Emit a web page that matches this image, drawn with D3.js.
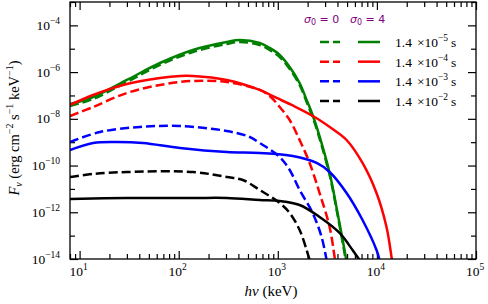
<!DOCTYPE html>
<html>
<head>
<meta charset="utf-8">
<script src="https://cdn.jsdelivr.net/npm/d3@7/dist/d3.min.js"></script>
<style>
  body { margin: 0; background: #fff; }
  svg { display: block; }
</style>
</head>
<body>
<svg id="chart"></svg>
<script>
// spectra: [h nu (keV), F_nu]
const greenSolid = [[8.0,4.32e-8],[13.7,8.61e-8],[30,4.60e-7],[64.7,2.45e-6],[139,8.85e-6],[305,1.95e-5],[413,2.37e-5],[657,1.77e-5],[828,1.08e-5],[1045,5.41e-6],[1318,1.66e-6],[1660,3.42e-7],[1954,6.41e-8],[2245,1.46e-8],[2522,3.33e-9],[3333,4.81e-11],[4010,9.3e-13],[4713,2.43e-14],[4943,7.44e-15]];
const greenDashed = [[8.0,3.55e-8],[13.7,7.07e-8],[30,3.78e-7],[64.7,2.02e-6],[139,7.27e-6],[305,1.60e-5],[413,1.95e-5],[657,1.45e-5],[828,8.85e-6],[1045,4.44e-6],[1318,1.36e-6],[1660,2.81e-7],[1954,5.26e-8],[2245,1.20e-8],[2522,2.73e-9],[3333,3.94e-11],[4010,7.65e-13],[4713,1.81e-14],[4943,6.11e-15]];
const redSolid = [[8.0,3.91e-8],[13.7,1.05e-7],[30,3.10e-7],[64.7,5.60e-7],[103,6.82e-7],[139,6.82e-7],[305,4.60e-7],[657,1.72e-7],[975,7.80e-8],[1413,3.72e-8],[2350,1.20e-8],[3570,3.67e-9],[4943,1.24e-9],[7160,1.29e-10],[9909,6.68e-12],[12500,2.34e-13],[14040,1.22e-14],[14370,6.11e-15]];
const redDashed = [[8.0,1.32e-8],[13.7,3.21e-8],[30,1.28e-7],[64.7,2.81e-7],[139,4.17e-7],[305,3.78e-7],[657,1.72e-7],[828,9.5e-8],[1045,3.21e-8],[1318,8.91e-9],[1660,1.24e-9],[2094,1.29e-10],[2641,6.68e-12],[3333,2.34e-13],[3741,1.22e-14],[3828,6.11e-15]];
const blueSolid = [[8.0,4.63e-10],[13.7,9.25e-10],[23.9,1.02e-9],[43.5,9.25e-10],[103,5.65e-10],[305,3.80e-10],[657,3.45e-10],[1413,2.56e-10],[2465,1.29e-10],[3333,5.30e-11],[4943,6.68e-12],[7160,4.68e-13],[9909,2.43e-14],[10620,9.06e-15]];
const blueDashed = [[8.0,1.02e-9],[16.1,2.73e-9],[40.6,4.48e-9],[103,4.93e-9],[305,3.01e-9],[521,1.67e-9],[657,9.25e-10],[1045,2.32e-10],[1318,6.46e-11],[1660,9.0e-12],[2245,9.3e-13],[2767,8.75e-14],[3105,9.06e-15]];
const blackSolid = [[8.0,3.70e-12],[30,4.08e-12],[139,4.08e-12],[305,4.08e-12],[657,3.36e-12],[1045,3.04e-12],[1660,2.05e-12],[2641,6.28e-13],[4200,1.30e-13],[5676,2.43e-14],[6679,9.06e-15]];
const blackDashed = [[8.0,3.24e-11],[13.7,4.36e-11],[30,5.30e-11],[139,5.30e-11],[305,3.24e-11],[443,2.41e-11],[657,9.0e-12],[1045,2.49e-12],[1318,9.3e-13],[1660,1.74e-13],[1954,2.43e-14],[2094,9.06e-15]];

const durations = ["\u22125", "\u22124", "\u22123", "\u22122"]; // exponents of 1.4 x 10^n s
const colors = ["#008000", "#ff0000", "#0000ff", "#000000"];
const solidSeries = [greenSolid, redSolid, blueSolid, blackSolid];
const dashedSeries = [greenDashed, redDashed, blueDashed, blackDashed];

const xLabelExps = [1, 2, 3, 4, 5];
const yLabelExps = [-4, -6, -8, -10, -12, -14];

const width = 488, height = 304;
const margin = { top: 2, right: 12, bottom: 45, left: 70 };
const innerW = width - margin.left - margin.right;
const innerH = height - margin.top - margin.bottom;

const svg = d3.select("#chart").attr("width", width).attr("height", height);

const x = d3.scaleLog().domain([8, 1e5]).range([margin.left, margin.left + innerW]);
const y = d3.scaleLog().domain([1e-14, 1e-3]).range([margin.top + innerH, margin.top]);

const serif = "'Liberation Serif', 'DejaVu Serif', serif";

svg.append("clipPath").attr("id", "clip")
  .append("rect")
  .attr("x", margin.left).attr("y", margin.top)
  .attr("width", innerW).attr("height", innerH);

// ticks
const xMajor = d3.range(1, 6).map(e => Math.pow(10, e));
const xMinor = [];
for (let e = 0; e < 5; e++) for (let m = 2; m <= 9; m++) {
  const v = m * Math.pow(10, e);
  if (v >= 8 && v <= 1e5) xMinor.push(v);
}
const yMajor = d3.range(-14, -3, 2).map(e => Math.pow(10, e));
const yMinor = d3.range(-13, -2, 2).map(e => Math.pow(10, e));

function tickAxis(axis, sel, vals, len) {
  sel.call(axis.tickValues(vals).tickSizeInner(-len).tickSizeOuter(0).tickFormat(""));
  sel.select(".domain").remove();
  sel.selectAll("line").attr("stroke", "#000").attr("stroke-width", 1.2);
}

const axes = svg.append("g");
[[xMajor, 8], [xMinor, 5]].forEach(([vals, len]) => {
  tickAxis(d3.axisBottom(x), axes.append("g").attr("transform", `translate(0,${margin.top + innerH})`), vals, len);
  tickAxis(d3.axisTop(x), axes.append("g").attr("transform", `translate(0,${margin.top})`), vals, len);
});
[[yMajor, 8], [yMinor, 5]].forEach(([vals, len]) => {
  tickAxis(d3.axisLeft(y), axes.append("g").attr("transform", `translate(${margin.left},0)`), vals, len);
  tickAxis(d3.axisRight(y), axes.append("g").attr("transform", `translate(${margin.left + innerW},0)`), vals, len);
});

// curves
const line = d3.line()
  .x(d => x(d[0]))
  .y(d => y(d[1]))
  .curve(d3.curveCatmullRom.alpha(0.5));

const plot = svg.append("g").attr("clip-path", "url(#clip)");
dashedSeries.forEach((s, i) => {
  plot.append("path").datum(s)
    .attr("d", line)
    .attr("fill", "none")
    .attr("stroke", colors[i])
    .attr("stroke-width", 2.5)
    .attr("stroke-dasharray", "9,4");
});
solidSeries.forEach((s, i) => {
  plot.append("path").datum(s)
    .attr("d", line)
    .attr("fill", "none")
    .attr("stroke", colors[i])
    .attr("stroke-width", 2.5);
});

// frame
svg.append("rect")
  .attr("x", margin.left).attr("y", margin.top)
  .attr("width", innerW).attr("height", innerH)
  .attr("fill", "none").attr("stroke", "#000").attr("stroke-width", 1.3);

// tick labels
xLabelExps.forEach(e => {
  const t = svg.append("text")
    .attr("x", x(Math.pow(10, e)) - 1)
    .attr("y", margin.top + innerH + 17)
    .attr("text-anchor", "middle")
    .attr("font-family", serif).attr("font-size", 13.5);
  t.append("tspan").text("10");
  t.append("tspan").attr("dy", -6).attr("font-size", 9.5).text(e);
});
yLabelExps.forEach(e => {
  const t = svg.append("text")
    .attr("x", margin.left - 10)
    .attr("y", y(Math.pow(10, e)) + 4.5)
    .attr("text-anchor", "end")
    .attr("font-family", serif).attr("font-size", 13.5);
  t.append("tspan").text("10");
  t.append("tspan").attr("dy", -6).attr("font-size", 9.5).text("\u2212" + Math.abs(e));
});

// axis titles
const xt = svg.append("text")
  .attr("x", margin.left + innerW / 2 - 2)
  .attr("y", 296)
  .attr("text-anchor", "middle")
  .attr("font-family", serif).attr("font-size", 15);
xt.append("tspan").attr("font-style", "italic").text("h\u03bd");
xt.append("tspan").text(" (keV)");

const yt = svg.append("text")
  .attr("transform", `translate(19,${margin.top + 126}) rotate(-90)`)
  .attr("text-anchor", "middle")
  .attr("font-family", serif).attr("font-size", 14.5);
yt.append("tspan").attr("font-style", "italic").text("F");
yt.append("tspan").attr("font-style", "italic").attr("font-size", 10).attr("dy", 3).text("\u03bd");
yt.append("tspan").attr("dy", -3).text(" (erg cm");
yt.append("tspan").attr("font-size", 10).attr("dy", -6).text("\u22122");
yt.append("tspan").attr("dy", 6).text(" s");
yt.append("tspan").attr("font-size", 10).attr("dy", -6).text("\u22121");
yt.append("tspan").attr("dy", 6).text(" keV");
yt.append("tspan").attr("font-size", 10).attr("dy", -6).text("\u22121");
yt.append("tspan").attr("dy", 6).text(")");

// legend
const purple = "#800080";
[["0", 304], ["4", 350]].forEach(([v, lx]) => {
  const t = svg.append("text")
    .attr("x", lx).attr("y", 23)
    .attr("font-family", "'DejaVu Sans', sans-serif").attr("font-size", 11)
    .attr("fill", purple);
  t.append("tspan").attr("font-style", "italic").text("\u03c3");
  t.append("tspan").attr("font-size", 8).attr("dy", 2).text("0");
  t.append("tspan").attr("dy", -2).text(" = " + v);
});

const legendY = d3.scalePoint().domain(d3.range(4)).range([42, 101]);
durations.forEach((exp, i) => {
  const ly = legendY(i);
  svg.append("line")
    .attr("x1", 320).attr("x2", 340).attr("y1", ly).attr("y2", ly)
    .attr("stroke", colors[i]).attr("stroke-width", 2.5).attr("stroke-dasharray", "9,4");
  svg.append("line")
    .attr("x1", 358).attr("x2", 380).attr("y1", ly).attr("y2", ly)
    .attr("stroke", colors[i]).attr("stroke-width", 2.5);
  const t = svg.append("text")
    .attr("x", 395).attr("y", ly + 5)
    .attr("font-family", serif).attr("font-size", 13.5);
  t.append("tspan").text("1.4");
  t.append("tspan").attr("dx", 5).text("\u00d710");
  t.append("tspan").attr("font-size", 9.5).attr("dy", -6).text(exp);
  t.append("tspan").attr("dy", 6).attr("dx", 3).text("s");
});
</script>
</body>
</html>
